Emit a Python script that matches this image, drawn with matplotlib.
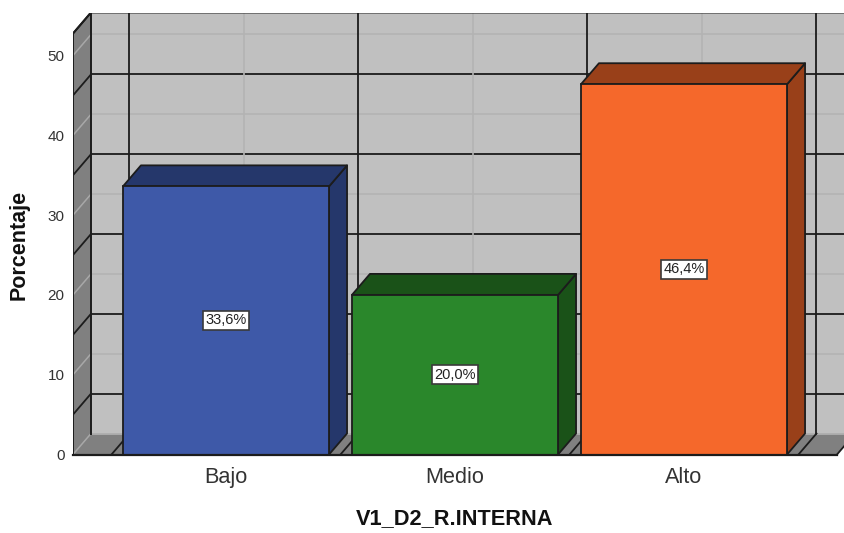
import matplotlib
matplotlib.use('Agg')
import matplotlib.pyplot as plt
from matplotlib.patches import Polygon

plt.rcParams['font.family'] = ['Liberation Sans', 'DejaVu Sans']

categories = ['Bajo', 'Medio', 'Alto']
porcentaje = [33.6, 20.0, 46.4]
etiquetas = ['33,6%', '20,0%', '46,4%']
colores = ['#3e59a8', '#2a872b', '#f5682b']
colores_osc = ['#25376b', '#1a5218', '#994019']
y_ticks = [0, 10, 20, 30, 40, 50]

W, H = 845, 533
px_cat = 229.0     # pixels per category
px_val = 7.98      # pixels per percent
dx = 18 / px_cat   # 3D depth offset, data units
dy = 21 / px_val
x_left = (73 - 226) / px_cat
x_front_r = (837 - 226) / px_cat
x_max = (845 - 226) / px_cat
y_top = (454.5 - 12.5) / px_val
y_wall = y_top - dy
ancho = 0.9

LINE = '#1c1c1c'
GREY = '#b3b3b3'

fig = plt.figure(figsize=(W / 100, H / 100), dpi=100)
ax = fig.add_axes([73 / W, 1 - 454.5 / H, (845 - 73) / W, (454.5 - 12.5) / H])
ax.set_xlim(x_left, x_max)
ax.set_ylim(0, y_top)
for s in ax.spines.values():
    s.set_visible(False)

# walls and floor
far_r = x_max + 1
ax.add_patch(Polygon([(x_left + dx, dy), (far_r, dy), (far_r, y_top), (x_left + dx, y_top)],
                     fc='#c0c0c0', ec='none', zorder=1))
ax.add_patch(Polygon([(x_left, 0), (x_left + dx, dy), (x_left + dx, y_top), (x_left, y_wall)],
                     fc='#808080', ec='none', zorder=1))
ax.add_patch(Polygon([(x_left, 0), (x_front_r, 0), (x_front_r + dx, dy), (x_left + dx, dy)],
                     fc='#808080', ec='none', zorder=1))

# grid: grey at the tens, dark at the fives, on back and side walls
for v in y_ticks:
    ax.plot([x_left, x_left + dx], [v, v + dy], color='#a8a8a8', lw=1.1, zorder=2)
    ax.plot([x_left + dx, far_r], [v + dy, v + dy], color=GREY, lw=1.2, zorder=2)
for v in [5, 15, 25, 35, 45]:
    ax.plot([x_left, x_left + dx], [v, v + dy], color=LINE, lw=1.3, zorder=2)
    ax.plot([x_left + dx, far_r], [v + dy, v + dy], color=LINE, lw=1.3, zorder=2)

# vertical grid: grey through the categories, dark between them
for i in range(len(categories)):
    ax.plot([i + dx, i + dx], [dy, y_top], color=GREY, lw=1.2, zorder=2)
for i in range(len(categories) + 1):
    b = i - 0.5
    ax.plot([b + dx, b + dx], [dy, y_top], color=LINE, lw=1.3, zorder=2)
    ax.plot([b, b + dx], [0, dy], color=LINE, lw=1.3, zorder=2)

# frame of the box
ax.plot([x_left, x_left, x_left + dx, far_r], [0, y_wall, y_top, y_top],
        color=LINE, lw=1.4, zorder=3, solid_joinstyle='miter')
ax.plot([x_left + dx, x_left + dx], [dy, y_top], color=LINE, lw=1.4, zorder=3)
ax.plot([x_left, x_left + dx], [y_wall, y_top], color=LINE, lw=1.4, zorder=3)
ax.plot([x_front_r, x_front_r + dx], [0, dy], color=LINE, lw=1.3, zorder=3)

# bars with their top and side faces
for i, v in enumerate(porcentaje):
    x0 = i - ancho / 2
    x1 = i + ancho / 2
    ax.add_patch(Polygon([(x1, 0), (x1 + dx, dy), (x1 + dx, v + dy), (x1, v)],
                         fc=colores_osc[i], ec=LINE, lw=1.3, zorder=4, joinstyle='round'))
    ax.add_patch(Polygon([(x0, v), (x0 + dx, v + dy), (x1 + dx, v + dy), (x1, v)],
                         fc=colores_osc[i], ec=LINE, lw=1.3, zorder=4, joinstyle='round'))
    ax.bar(i, v, width=ancho, color=colores[i], edgecolor=LINE, lw=1.3, zorder=5)
    ax.text(i, v / 2, etiquetas[i], ha='center', va='center', fontsize=10.5, color='#222222', zorder=6,
            bbox=dict(boxstyle='square,pad=0.18', fc='white', ec='#3a3a3a', lw=1.2))

ax.plot([x_left, x_front_r], [0, 0], color=LINE, lw=1.6, zorder=6, clip_on=False)

ax.set_xticks(range(len(categories)))
ax.set_xticklabels(categories, fontsize=15.6, color='#333333')
ax.set_yticks(y_ticks)
ax.tick_params(axis='x', length=0, pad=9)
ax.tick_params(axis='y', length=0, pad=6, labelsize=11, labelcolor='#333333')

fig.text(455 / W, 1 - 519 / H, 'V1_D2_R.INTERNA', ha='center', va='center',
         fontsize=15.7, fontweight='bold', color='#111111')
fig.text(19 / W, 1 - 245 / H, 'Porcentaje', ha='center', va='center', rotation=90,
         fontsize=15.5, fontweight='bold', color='#111111')

fig.savefig('out.png', dpi=100)
